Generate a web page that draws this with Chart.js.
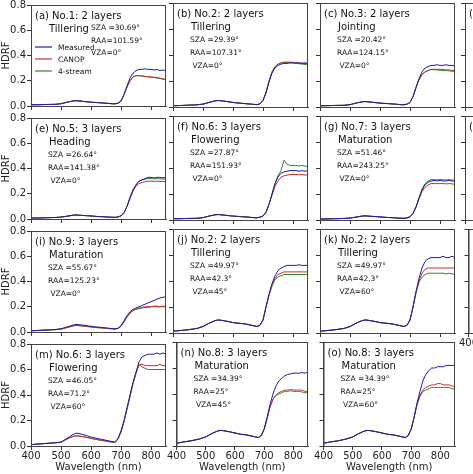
<!DOCTYPE html>
<html><head><meta charset="utf-8">
<script src="https://cdn.jsdelivr.net/npm/chart.js@4/dist/chart.umd.min.js"></script>
<style>body{margin:0;background:#fff;width:473px;height:474px;overflow:hidden;position:relative;font-family:"DejaVu Sans"}
.c{position:absolute}</style></head><body>
<script>
const W=[400,420,450,480,500,520,540,550,560,580,600,620,640,660,670,680,690,700,710,720,730,740,750,760,770,780,790,800,810,820,830,840,850];
const xTicks=[400,500,600,700,800];
const yTicks=[0,0.2,0.4,0.6,0.8];
const seriesNames=["Measured","CANOP","4-stream"];
// visible part 400..690 (17 values), NIR 700..850 (16 values)
const visA=[.01,.01,.012,.013,.018,.03,.04,.042,.04,.035,.03,.027,.024,.02,.018,.017,.022];
const visB=[.01,.011,.014,.017,.022,.035,.047,.05,.048,.042,.035,.03,.026,.022,.02,.018,.025];
const visE=[.008,.008,.01,.012,.015,.022,.03,.032,.03,.027,.024,.02,.018,.015,.014,.013,.016];
const visIm=[.01,.012,.016,.02,.026,.04,.055,.06,.058,.052,.045,.04,.035,.03,.027,.025,.03];
const visIc=[.01,.012,.015,.018,.023,.035,.048,.052,.05,.045,.04,.035,.031,.027,.025,.024,.028];
const visJ=[.015,.018,.025,.035,.05,.075,.095,.1,.098,.09,.08,.075,.07,.06,.055,.05,.06];
const visMm=[.01,.015,.02,.025,.03,.06,.09,.1,.098,.085,.07,.06,.05,.04,.035,.03,.06];
const visMc=[.01,.015,.02,.025,.03,.055,.075,.08,.078,.07,.06,.05,.042,.035,.03,.028,.055];
const visN=[.02,.03,.04,.055,.07,.095,.115,.12,.118,.11,.1,.09,.085,.075,.07,.065,.08];
const nirAm=[.04,.09,.16,.22,.26,.28,.29,.29,.295,.29,.29,.285,.29,.28,.285,.28];
const nirAc=[.04,.09,.15,.2,.23,.24,.24,.238,.235,.232,.23,.228,.225,.22,.215,.21];
const nirAs=[.04,.09,.15,.2,.23,.24,.24,.237,.234,.23,.228,.225,.222,.218,.212,.205];
const nirBm=[.05,.11,.19,.26,.3,.32,.33,.335,.335,.34,.34,.338,.34,.335,.34,.335];
const nirBc=[.05,.11,.2,.27,.31,.33,.34,.345,.345,.345,.343,.34,.34,.338,.335,.332];
const nirBs=[.05,.11,.2,.27,.31,.33,.34,.343,.342,.34,.338,.335,.333,.33,.327,.325];
const nirCm=[.035,.08,.15,.22,.27,.3,.31,.32,.32,.325,.32,.32,.325,.32,.32,.315];
const nirCc=[.035,.08,.15,.21,.25,.27,.28,.29,.29,.29,.29,.288,.286,.285,.283,.28];
const nirCs=[.035,.08,.15,.21,.25,.27,.28,.288,.287,.285,.283,.28,.28,.278,.275,.272];
const nirEm=[.025,.05,.1,.17,.23,.27,.3,.31,.32,.33,.33,.325,.33,.33,.325,.33];
const nirEc=[.025,.05,.1,.16,.22,.26,.28,.29,.295,.3,.3,.298,.3,.297,.298,.295];
const nirEs=[.025,.05,.1,.17,.23,.27,.3,.31,.315,.32,.32,.318,.32,.317,.318,.315];
const nirFm=[.03,.06,.12,.2,.28,.33,.36,.37,.375,.38,.38,.38,.375,.38,.375,.38];
const nirFc=[.03,.06,.12,.19,.26,.3,.33,.34,.345,.35,.35,.35,.348,.35,.345,.35];
const nirFs=[.03,.06,.12,.2,.28,.34,.38,.46,.43,.42,.42,.42,.415,.42,.415,.41];
const nirGm=[.025,.05,.1,.17,.23,.27,.29,.3,.305,.3,.305,.3,.3,.305,.3,.3];
const nirGc=[.025,.05,.1,.16,.22,.25,.27,.28,.28,.28,.28,.28,.278,.28,.278,.275];
const nirGs=[.025,.05,.1,.17,.24,.28,.3,.31,.31,.31,.31,.31,.308,.31,.308,.305];
const nirIm=[.05,.09,.13,.16,.18,.19,.2,.21,.22,.23,.24,.25,.26,.27,.275,.28];
const nirIc=[.045,.08,.12,.15,.17,.18,.19,.195,.2,.2,.2,.205,.205,.2,.205,.2];
const nirIs=[.045,.08,.12,.15,.17,.18,.185,.19,.195,.195,.2,.2,.2,.2,.2,.2];
const nirJm=[.1,.2,.3,.38,.44,.48,.5,.51,.52,.52,.52,.52,.525,.52,.52,.52];
const nirJc=[.1,.2,.29,.37,.42,.45,.46,.47,.47,.47,.47,.47,.47,.47,.47,.47];
const nirJs=[.1,.2,.29,.36,.41,.43,.44,.45,.45,.45,.45,.45,.45,.45,.45,.45];
const nirKm=[.1,.2,.32,.42,.5,.55,.57,.58,.58,.58,.58,.59,.58,.58,.59,.58];
const nirKc=[.1,.2,.31,.4,.46,.49,.5,.5,.5,.5,.5,.5,.5,.5,.5,.5];
const nirKs=[.1,.2,.31,.39,.43,.45,.46,.46,.46,.46,.46,.46,.455,.46,.455,.45];
const nirMm=[.12,.2,.3,.4,.5,.58,.66,.7,.71,.72,.72,.72,.73,.72,.73,.72];
const nirMc=[.11,.19,.29,.39,.49,.57,.64,.64,.63,.63,.63,.63,.63,.64,.63,.63];
const nirMs=[.11,.19,.29,.39,.49,.57,.64,.62,.61,.6,.6,.6,.6,.6,.6,.6];
const nirNm=[.13,.22,.32,.4,.46,.5,.52,.54,.55,.555,.56,.56,.56,.565,.56,.57];
const nirNc=[.13,.21,.3,.36,.39,.41,.42,.43,.43,.435,.43,.43,.43,.43,.42,.42];
const nirNs=[.13,.21,.3,.36,.39,.4,.41,.42,.42,.425,.42,.42,.42,.415,.41,.41];
const nirOm=[.13,.22,.33,.42,.5,.55,.58,.6,.6,.61,.61,.61,.62,.62,.62,.62];
const nirOc=[.13,.22,.32,.39,.43,.45,.46,.47,.47,.48,.48,.47,.47,.47,.46,.46];
const nirOs=[.13,.22,.32,.38,.42,.43,.44,.45,.45,.45,.45,.45,.45,.45,.44,.44];
const titles=["(a) No.1: 2 layers","(b) No.2: 2 layers","(c) No.3: 2 layers","(d) No.4: 2 layers",
"(e) No.5: 3 layers","(f) No.6: 3 layers","(g) No.7: 3 layers","(h) No.8: 3 layers",
"(i) No.9: 3 layers","(j) No.2: 2 layers","(k) No.2: 2 layers","(l) No.2: 2 layers",
"(m) No.6: 3 layers","(n) No.8: 3 layers","(o) No.8: 3 layers"];
const stages=["Tillering","Tillering","Jointing","","Heading","Flowering","Maturation","","Maturation","Tillering","Tillering","","Flowering","Maturation","Maturation"];
const angles=[["SZA =30.69°","RAA=101.59°","VZA=0°"],["SZA =29.39°","RAA=107.31°"," VZA=0°"],["SZA =20.42°","RAA=124.15°"," VZA=0°"],["","",""],
["SZA =26.64°","RAA=141.38°"," VZA=0°"],["SZA =27.87°","RAA=151.93°"," VZA=0°"],["SZA =51.46°","RAA=243.25°"," VZA=0°"],["","",""],
["SZA =55.67°","RAA=125.23°"," VZA=0°"],["SZA =49.97°","RAA=42.3°"," VZA=45°"],["SZA =49.97°","RAA=42.3°"," VZA=60°"],["","",""],
["SZA =46.05°","RAA=71.2°"," VZA=60°"],["SZA =34.39°","RAA=25°"," VZA=45°"],["SZA =34.39°","RAA=25°"," VZA=60°"]];
const panelData=[
[visA.concat(nirAm),visA.concat(nirAc),visA.concat(nirAs)],
[visB.concat(nirBm),visB.concat(nirBc),visB.concat(nirBs)],
[visA.concat(nirCm),visA.concat(nirCc),visA.concat(nirCs)],
null,
[visE.concat(nirEm),visE.concat(nirEc),visE.concat(nirEs)],
[visA.concat(nirFm),visA.concat(nirFc),visA.concat(nirFs)],
[visE.concat(nirGm),visE.concat(nirGc),visE.concat(nirGs)],
null,
[visIm.concat(nirIm),visIc.concat(nirIc),visIc.concat(nirIs)],
[visJ.concat(nirJm),visJ.concat(nirJc),visJ.concat(nirJs)],
[visJ.concat(nirKm),visJ.concat(nirKc),visJ.concat(nirKs)],
null,
[visMm.concat(nirMm),visMc.concat(nirMc),visMc.concat(nirMs)],
[visN.concat(nirNm),visN.concat(nirNc),visN.concat(nirNs)],
[visN.concat(nirOm),visN.concat(nirOc),visN.concat(nirOs)]];
const colors=["#1c1ca8","#c8302c","#2e8a2e"];
const colL=[31,173,320,465], rowT=[3,116,229,342], PW=135, PH=104;
const F='"DejaVu Sans"';
const deco={id:'deco',afterDatasetsDraw(ch){
  const o=ch.options.plugins.deco, a=ch.chartArea, c=ch.ctx;
  c.save();c.strokeStyle='#444';c.lineWidth=1;c.strokeRect(a.left+.5,a.top+.5,a.right-a.left-1,a.bottom-a.top);
  c.fillStyle='#111';c.textBaseline='alphabetic';
  c.font='10px '+F;c.fillText(titles[o.i],a.left+4,a.top+14);
  c.fillText(stages[o.i],a.left+18,a.top+27);
  c.font='7.5px '+F;
  const ang=angles[o.i];
  if(o.i===0){ang.forEach((t,k)=>c.fillText(t,a.left+60,a.top+25+k*12.5));
    seriesNames.forEach((t,k)=>{const y=a.top+42+k*12;c.strokeStyle=colors[k];c.lineWidth=1.2;c.beginPath();c.moveTo(a.left+4,y);c.lineTo(a.left+21,y);c.stroke();c.fillText(t,a.left+27,y+3);});}
  else ang.forEach((t,k)=>c.fillText(t,a.left+17,a.top+39+k*13));
  c.restore();}};
for(let r=0;r<4;r++)for(let col=0;col<4;col++){
  const i=r*4+col; if(i>14)continue;
  const first=col===0, bottom=(r===3)||(r===2&&col===3);
  const yW=first?31:6, xH=bottom?(r===3?27:16):6;
  const left=colL[col]-yW, top=rowT[r]-5;
  const w=yW+PW+3, h=5+PH+xH;
  const d=document.createElement('div');d.className='c';d.style.cssText=`left:${left}px;top:${top}px;width:${w}px;height:${h}px`;
  const cv=document.createElement('canvas');d.appendChild(cv);document.body.appendChild(d);
  const ds=(panelData[i]||[[],[],[]]).map((s,k)=>({label:seriesNames[k],data:s.map((v,j)=>({x:W[j],y:v})),borderColor:colors[k],borderWidth:1,pointRadius:0,tension:0}));
  new Chart(cv,{type:'line',data:{datasets:ds},options:{responsive:true,maintainAspectRatio:false,animation:false,
   layout:{padding:{top:5,right:3,left:0,bottom:0}},
   plugins:{legend:{display:false},tooltip:{enabled:false},deco:{i}},
   scales:{
    x:{type:'linear',min:400,max:850,afterBuildTicks:s=>{s.ticks=xTicks.map(v=>({value:v}))},afterFit:s=>{s.height=xH},
      grid:{drawOnChartArea:false,tickLength:4,color:'#333'},border:{color:'#444'},
      ticks:{display:bottom,color:'#222',font:{size:10,family:F},padding:0,maxRotation:0},
      title:{display:r===3,text:'Wavelength (nm)',color:'#222',font:{size:10,family:F},padding:0}},
    y:{min:0,max:0.8,afterBuildTicks:s=>{s.ticks=yTicks.map(v=>({value:v}))},afterFit:s=>{s.width=yW},
      grid:{drawOnChartArea:false,tickLength:4,color:'#333'},border:{color:'#444'},
      ticks:{display:first,color:'#222',font:{size:10,family:F},padding:1,callback:v=>v.toFixed(1)},
      title:{display:first,text:'HDRF',color:'#222',font:{size:10,family:F},padding:0}}}},
   plugins:[deco]});
}
</script></body></html>
